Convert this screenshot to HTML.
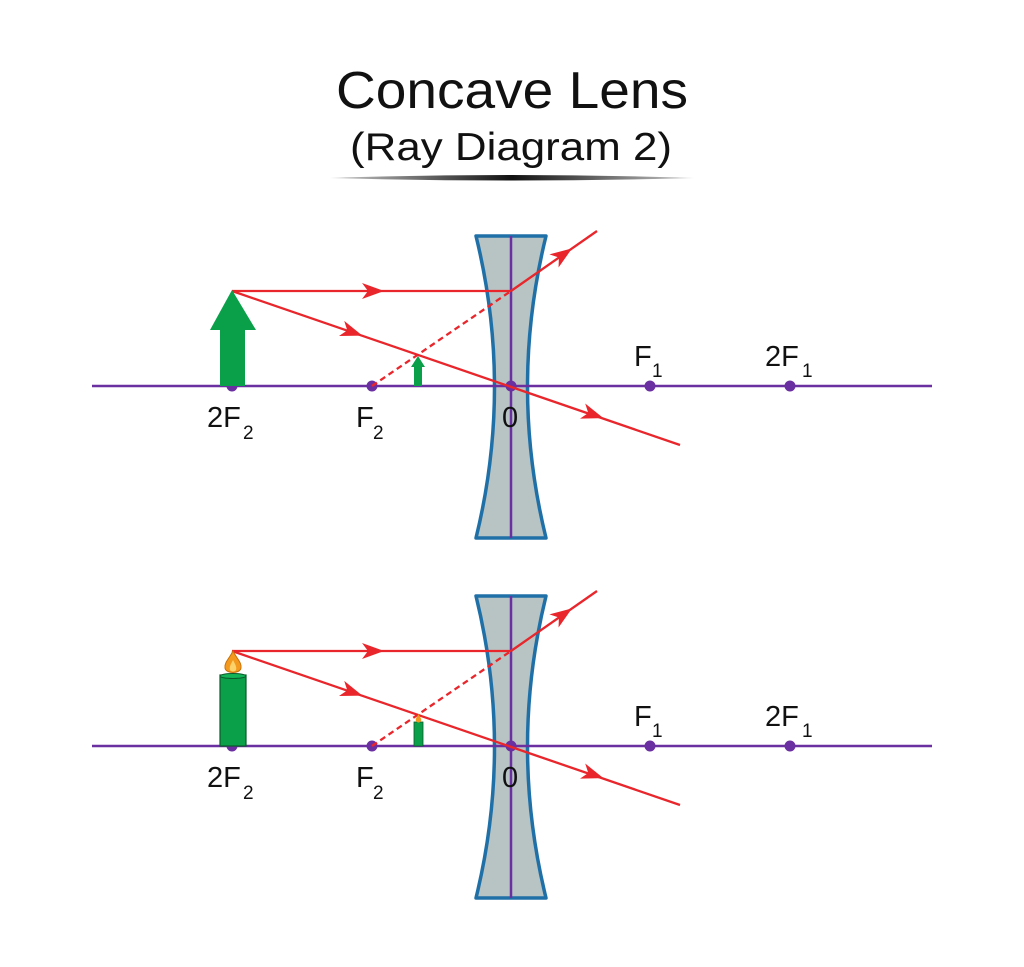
<!DOCTYPE html>
<html><head><meta charset="utf-8"><style>html,body{margin:0;padding:0;background:#fff}svg{display:block}</style></head>
<body>
<svg width="1024" height="967" viewBox="0 0 1024 967" xmlns="http://www.w3.org/2000/svg" font-family="Liberation Sans, Arial, sans-serif">
<defs>
<linearGradient id="ul" x1="0" x2="1"><stop offset="0" stop-color="#000" stop-opacity="0.2"/><stop offset="0.5" stop-color="#111"/><stop offset="1" stop-color="#000" stop-opacity="0.2"/></linearGradient>
<path id="ah" d="M11,0 L-11,-8 L-5,0 L-11,8 Z" fill="#e8262b"/>
<g id="common">
  <path d="M476,236 L546,236 Q509,387 546,538 L476,538 Q513,387 476,236 Z" fill="#b8c3c3" stroke="#2070a8" stroke-width="3.5" stroke-linejoin="round"/>
  <line x1="511" y1="236" x2="511" y2="538" stroke="#6a2fa0" stroke-width="2.5"/>
  <line x1="92" y1="386" x2="932" y2="386" stroke="#6a2fa0" stroke-width="2.5"/>
  <circle cx="232" cy="386" r="5.5" fill="#6a2fa0"/>
  <circle cx="372" cy="386" r="5.5" fill="#6a2fa0"/>
  <circle cx="511" cy="386" r="5.5" fill="#6a2fa0"/>
  <circle cx="650" cy="386" r="5.5" fill="#6a2fa0"/>
  <circle cx="790" cy="386" r="5.5" fill="#6a2fa0"/>
  <g stroke="#e8262b" stroke-width="2.3" fill="none">
    <line x1="232" y1="291" x2="511" y2="291"/>
    <line x1="511" y1="291" x2="597" y2="231"/>
    <line x1="232" y1="291" x2="680" y2="445"/>
    <line x1="372" y1="386" x2="511" y2="291" stroke-dasharray="6,4"/>
  </g>
  <use href="#ah" transform="translate(373,291)"/>
  <use href="#ah" transform="translate(563,254.7) rotate(-34.9)"/>
  <use href="#ah" transform="translate(352,332) rotate(19)"/>
  <use href="#ah" transform="translate(593,414.6) rotate(19)"/>
  <g font-size="29" fill="#111">
    <text x="207" y="427">2F</text><text x="243" y="439" font-size="19">2</text>
    <text x="356" y="427">F</text><text x="373" y="439" font-size="19">2</text>
    <text x="502" y="427">0</text>
    <text x="634" y="366">F</text><text x="652" y="377" font-size="19">1</text>
    <text x="765" y="366">2F</text><text x="802" y="377" font-size="19">1</text>
  </g>
</g>
</defs>

<text x="512" y="108" font-size="52" text-anchor="middle" fill="#111" textLength="352" lengthAdjust="spacingAndGlyphs">Concave Lens</text>
<text x="511" y="160" font-size="39" text-anchor="middle" fill="#111" textLength="322" lengthAdjust="spacingAndGlyphs">(Ray Diagram 2)</text>
<path d="M330,178 Q512,172 694,178 Q512,183 330,178 Z" fill="url(#ul)"/>

<use href="#common"/>
<polygon points="232,290 256,330 245,330 245,386 220,386 220,330 210,330" fill="#0aa04a"/>
<polygon points="418,356 425,367 422,367 422,386 414,386 414,367 411,367" fill="#0aa04a"/>

<use href="#common" transform="translate(0,360)"/>
<rect x="220" y="675" width="26" height="71" fill="#0aa04a" stroke="#0b5a2a" stroke-width="1.2"/>
<ellipse cx="233" cy="676" rx="13" ry="2.5" fill="#13b358" stroke="#0b5a2a" stroke-width="1"/>
<path d="M233,651 C237,659 242,663 241,668 C240,674 226,674 225,668 C224,663 229,659 233,651 Z" fill="#f39a1e" stroke="#c8720a" stroke-width="1"/>
<path d="M233,660 C235,664 237,667 236,670 C235,672 231,672 230,670 C229,667 231,664 233,660 Z" fill="#fcd36a"/>
<rect x="414" y="722" width="9" height="24" fill="#0aa04a" stroke="#0b5a2a" stroke-width="0.8"/>
<path d="M418.5,714 C420,717 422,719 421,721 C420,723 417,723 416,721 C415,719 417,717 418.5,714 Z" fill="#f39a1e"/>
</svg>
</body></html>
